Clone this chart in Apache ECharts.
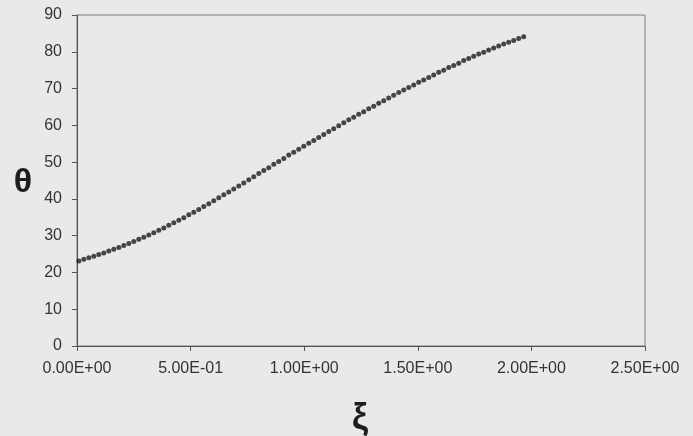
<!DOCTYPE html>
<html>
<head>
<meta charset="utf-8">
<script src="https://cdn.jsdelivr.net/npm/echarts@6/dist/echarts.min.js"></script>
<style>
  html, body { margin: 0; padding: 0; background: #e9e9e9; }
  #chart { width: 693px; height: 436px; }
</style>
</head>
<body>
<div id="chart"></div>
<script>
// ξ values of the computed profile
const xi = [
  0.008, 0.030, 0.052, 0.074, 0.096, 0.118, 0.140, 0.162, 0.184, 0.206,
  0.228, 0.250, 0.272, 0.294, 0.316, 0.338, 0.360, 0.382, 0.404, 0.426,
  0.448, 0.470, 0.492, 0.514, 0.536, 0.558, 0.580, 0.602, 0.624, 0.646,
  0.668, 0.690, 0.712, 0.734, 0.756, 0.778, 0.800, 0.822, 0.844, 0.866,
  0.888, 0.910, 0.932, 0.954, 0.976, 0.998, 1.020, 1.042, 1.064, 1.086,
  1.108, 1.130, 1.152, 1.174, 1.196, 1.218, 1.240, 1.262, 1.284, 1.306,
  1.328, 1.350, 1.372, 1.394, 1.416, 1.438, 1.460, 1.482, 1.504, 1.526,
  1.548, 1.570, 1.592, 1.614, 1.636, 1.658, 1.680, 1.702, 1.724, 1.746,
  1.768, 1.790, 1.812, 1.834, 1.856, 1.878, 1.900, 1.922, 1.944, 1.966
];

// θ (degrees) at each ξ
const theta = [
  23.1, 23.6, 24.0, 24.4, 24.9, 25.3, 25.8, 26.3, 26.8, 27.3,
  27.9, 28.4, 29.0, 29.6, 30.2, 30.8, 31.5, 32.1, 32.8, 33.5,
  34.2, 34.9, 35.7, 36.4, 37.1, 37.9, 38.7, 39.5, 40.3, 41.1,
  41.9, 42.7, 43.5, 44.3, 45.2, 46.0, 46.9, 47.7, 48.5, 49.4,
  50.2, 51.0, 51.9, 52.7, 53.5, 54.3, 55.1, 55.9, 56.7, 57.5,
  58.3, 59.1, 59.9, 60.7, 61.5, 62.2, 63.0, 63.7, 64.5, 65.2,
  66.0, 66.7, 67.4, 68.2, 68.9, 69.6, 70.3, 71.0, 71.7, 72.3,
  73.0, 73.7, 74.4, 75.0, 75.7, 76.3, 76.9, 77.6, 78.2, 78.8,
  79.4, 79.9, 80.5, 81.0, 81.6, 82.1, 82.6, 83.1, 83.6, 84.1
];

// axis tick labels
const xTickLabels = ['0.00E+00', '5.00E-01', '1.00E+00', '1.50E+00', '2.00E+00', '2.50E+00'];
const yTickLabels = ['0', '10', '20', '30', '40', '50', '60', '70', '80', '90'];

// axis titles
const xTitle = 'ξ';
const yTitle = 'θ';

const points = xi.map((x, i) => [x, theta[i]]);

const chart = echarts.init(document.getElementById('chart'), null, { renderer: 'canvas' });

const FONT = 'Liberation Sans, Arial, sans-serif';
const labelStyle = { color: '#333', fontFamily: FONT, fontSize: 16 };

chart.setOption({
  backgroundColor: '#e9e9e9',
  animation: false,
  grid: {
    left: 77, right: 48, top: 15, bottom: 90,
    show: true,
    borderColor: '#7a7a7a',
    borderWidth: 1,
    backgroundColor: 'transparent'
  },
  xAxis: {
    type: 'value',
    min: 0, max: 2.5, interval: 0.5,
    axisLine: { show: true, lineStyle: { color: '#555', width: 1 } },
    axisTick: { show: true, length: 5, inside: false, lineStyle: { color: '#555' } },
    splitLine: { show: false },
    axisLabel: Object.assign({}, labelStyle, {
      margin: 15,
      formatter: v => xTickLabels[Math.round(v / 0.5)]
    })
  },
  yAxis: {
    type: 'value',
    min: 0, max: 90, interval: 10,
    axisLine: { show: true, lineStyle: { color: '#555', width: 1 } },
    axisTick: { show: true, length: 5, inside: false, lineStyle: { color: '#555' } },
    splitLine: { show: false },
    axisLabel: Object.assign({}, labelStyle, {
      margin: 15,
      formatter: v => yTickLabels[Math.round(v / 10)]
    })
  },
  graphic: [
    {
      type: 'text', x: 23, y: 183,
      style: {
        text: yTitle, fill: '#1e1e1e', font: 'bold 34px ' + FONT,
        align: 'center', verticalAlign: 'middle'
      }
    },
    {
      type: 'text', x: 360, y: 401,
      style: {
        text: xTitle, fill: '#1e1e1e', font: 'bold 36px ' + FONT,
        align: 'center', verticalAlign: 'top'
      }
    }
  ],
  series: [{
    type: 'scatter',
    data: points,
    symbol: 'circle',
    symbolSize: 5,
    itemStyle: { color: '#1c1c1c' }
  }]
});
</script>
</body>
</html>
